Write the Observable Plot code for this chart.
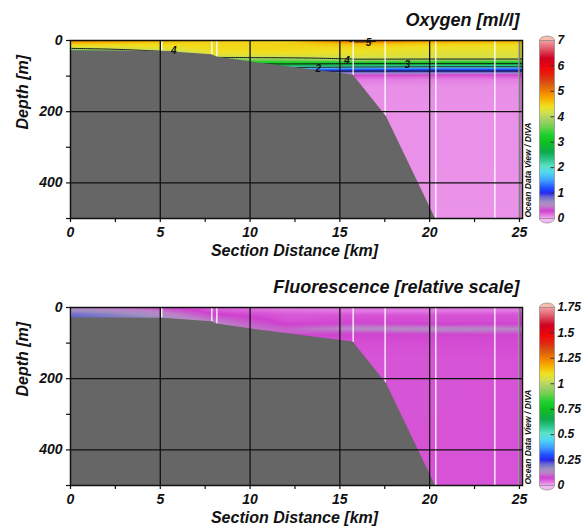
<!DOCTYPE html>
<html>
<head>
<meta charset="utf-8">
<script src="https://cdn.jsdelivr.net/npm/d3@7"></script>
<script src="https://cdn.jsdelivr.net/npm/@observablehq/plot@0.6"></script>
<style>
  html, body { margin: 0; padding: 0; background: #fff; }
  #figure { position: relative; width: 583px; height: 528px; overflow: hidden; }
  #figure svg { position: absolute; }
</style>
</head>
<body>
<div id="figure"></div>
<script>
// ---- Section geometry ----
const distanceTicks = [0, 5, 10, 15, 20, 25];
const depthTicks = [0, 200, 400];
const xMax = 25.17;
const depthMax = 500;

// Stations: distance along the section (km) and deepest sample (m)
const stationKm = [0, 5.08, 7.87, 8.15, 15.74, 17.52, 20.34, 23.63, 24.98];
const stationDepth = [29, 30, 40, 46, 98, 212, 500, 500, 500];

// Seafloor profile
const bottomKm = [0, 5.08, 7.87, 8.15, 10, 15.74, 17.6, 20.32];
const bottomDepth = [29, 30, 40, 46, 60, 97, 214, 500];

// ---- Gridded fields (rows = depth, columns = distance) ----
const gridKm = [0, 4, 8, 12, 16, 20, 25.2];

const oxygenDepths = [0, 5, 10, 20, 30, 40, 45, 50, 55, 60, 65, 70, 75, 80, 85, 90, 95, 100, 110, 130, 500];
const oxygen = [
  [4.95, 4.75, 4.55, 4.40, 5.20, 4.85, 4.70],
  [4.80, 4.60, 4.50, 4.45, 4.98, 4.70, 4.60],
  [4.55, 4.45, 4.45, 4.50, 4.60, 4.50, 4.45],
  [4.20, 4.35, 4.45, 4.45, 4.45, 4.38, 4.35],
  [3.30, 3.90, 4.40, 4.45, 4.38, 4.32, 4.30],
  [3.00, 3.40, 4.30, 4.30, 4.30, 4.25, 4.25],
  [2.90, 3.20, 4.10, 4.15, 4.22, 4.20, 4.20],
  [2.80, 3.00, 3.90, 3.95, 4.12, 4.15, 4.15],
  [2.70, 2.90, 3.60, 3.60, 3.90, 3.85, 3.85],
  [2.60, 2.80, 3.30, 3.32, 3.30, 3.25, 3.25],
  [2.50, 2.60, 3.00, 3.10, 3.02, 3.02, 3.02],
  [2.30, 2.40, 2.60, 2.60, 2.40, 2.30, 2.30],
  [2.00, 2.00, 2.10, 2.10, 2.00, 1.95, 1.95],
  [1.50, 1.50, 1.50, 1.50, 1.30, 1.25, 1.25],
  [1.10, 1.10, 1.10, 1.10, 1.05, 1.05, 1.05],
  [0.80, 0.80, 0.80, 0.80, 0.80, 0.80, 0.80],
  [0.40, 0.40, 0.40, 0.40, 0.38, 0.35, 0.35],
  [0.25, 0.25, 0.25, 0.25, 0.24, 0.22, 0.22],
  [0.13, 0.13, 0.13, 0.13, 0.13, 0.12, 0.12],
  [0.08, 0.08, 0.08, 0.08, 0.08, 0.08, 0.08],
  [0.07, 0.07, 0.07, 0.07, 0.07, 0.07, 0.07]
];

const fluorDepths = [0, 5, 10, 15, 20, 30, 40, 50, 60, 70, 80, 100, 150, 500];
const fluorescence = [
  [0.130, 0.100, 0.050, 0.040, 0.045, 0.050, 0.045],
  [0.150, 0.110, 0.055, 0.035, 0.035, 0.035, 0.030],
  [0.170, 0.130, 0.060, 0.040, 0.035, 0.035, 0.035],
  [0.190, 0.150, 0.070, 0.050, 0.045, 0.045, 0.050],
  [0.210, 0.160, 0.080, 0.055, 0.060, 0.060, 0.060],
  [0.220, 0.180, 0.100, 0.060, 0.065, 0.065, 0.065],
  [0.220, 0.180, 0.120, 0.065, 0.070, 0.065, 0.065],
  [0.200, 0.170, 0.130, 0.080, 0.100, 0.090, 0.090],
  [0.180, 0.150, 0.130, 0.100, 0.135, 0.140, 0.130],
  [0.150, 0.120, 0.110, 0.100, 0.090, 0.100, 0.100],
  [0.100, 0.090, 0.080, 0.070, 0.070, 0.070, 0.070],
  [0.065, 0.065, 0.065, 0.065, 0.065, 0.065, 0.068],
  [0.060, 0.060, 0.060, 0.060, 0.060, 0.060, 0.062],
  [0.062, 0.062, 0.062, 0.062, 0.062, 0.062, 0.062]
];

// Oxygen isolines and their labels
const oxygenLevels = [1, 2, 3, 4, 5];
const oxyLabelKm = [16.6, 5.75, 15.4, 18.75, 13.8];
const oxyLabelDepth = [6, 30, 56, 68, 79];
const oxyLabelValue = [5, 4, 4, 3, 2];

// Colour bar ticks
const oxygenBarTicks = [0, 1, 2, 3, 4, 5, 6, 7];
const fluorBarTicks = [0, 0.25, 0.5, 0.75, 1, 1.25, 1.5, 1.75];

// ODV-style palette, stops given on a 0–7 bar
const paletteStops = [0, 0.15, 0.3, 0.5, 0.65, 0.85, 1.0, 1.2, 1.5, 1.8, 2.05, 2.3, 2.6, 3.0, 3.3, 3.6, 3.9, 4.15, 4.4, 4.7, 5.0, 5.3, 5.6, 5.9, 6.3, 6.7, 7.0];
const paletteColors = ["#f2aef0", "#e074e0", "#d040d0", "#bc84c8", "#a090c0", "#6868d0", "#2828f0", "#2050ff", "#40a0ff", "#50d8f0", "#60e0c8", "#30c890", "#10a850", "#10c020", "#20d030", "#70d050", "#a8d068", "#d0e050", "#f0e020", "#f8b000", "#f08000", "#d85810", "#e02810", "#f00808", "#d00020", "#e06070", "#f4a0a0"];

// ---- helpers ----
function gridSampler(cols, rows, table) {
  const cell = (a, v) => Math.max(0, Math.min(a.length - 2, d3.bisectRight(a, v) - 1));
  const clamp01 = (t) => Math.max(0, Math.min(1, t));
  return (x, y) => {
    const i = cell(cols, x), j = cell(rows, y);
    const tx = clamp01((x - cols[i]) / (cols[i + 1] - cols[i]));
    const ty = clamp01((y - rows[j]) / (rows[j + 1] - rows[j]));
    const upper = table[j][i] * (1 - tx) + table[j][i + 1] * tx;
    const lower = table[j + 1][i] * (1 - tx) + table[j + 1][i + 1] * tx;
    return upper * (1 - ty) + lower * ty;
  };
}
const oxygenAt = gridSampler(gridKm, oxygenDepths, oxygen);
const fluorAt = gridSampler(gridKm, fluorDepths, fluorescence);

const font = '"Liberation Sans", Arial, Helvetica, sans-serif';
const baseStyle = {fontFamily: font, fontWeight: "bold", fontStyle: "italic", color: "#111", background: "transparent", overflow: "visible"};

// rounded end cap of the colour bar
const capSymbol = {
  draw(context, size) {
    const r = Math.sqrt(size / Math.PI), h = r * 0.6;
    context.moveTo(-r, 0);
    context.bezierCurveTo(-r, -h * 0.7, -r * 0.35, -h, 0, -h);
    context.bezierCurveTo(r * 0.35, -h, r, -h * 0.7, r, 0);
    context.closePath();
  }
};

function sectionPlot({title, field, colorDomain, levels, labels, height, marginBottom}) {
  const seafloor = bottomKm.map((km, i) => ({km, depth: bottomDepth[i]}));
  const stations = stationKm.map((km, i) => ({km, depth: stationDepth[i]}));
  const extent = {x1: 0, x2: xMax, y1: 0, y2: depthMax};
  return Plot.plot({
    width: 583, height,
    marginLeft: 70, marginRight: 61, marginTop: 40, marginBottom,
    x: {domain: [0, xMax]},
    y: {domain: [0, depthMax], reverse: true},
    color: {type: "linear", domain: colorDomain, range: paletteColors},
    style: {...baseStyle, fontSize: "14px"},
    marks: [
      Plot.raster({fill: field, ...extent, pixelSize: 1}),
      ...(levels ? [Plot.contour({value: field, ...extent, thresholds: levels, fill: "none", stroke: "#151515", strokeWidth: 1})] : []),
      Plot.ruleX(stations, {x: "km", y1: 0, y2: "depth", stroke: "white", strokeOpacity: 0.85, strokeWidth: 1.5}),
      Plot.areaY(seafloor, {x: "km", y1: "depth", y2: depthMax, fill: "#666666"}),
      ...(labels ? [Plot.text(labels, {x: "km", y: "depth", text: "value", fontSize: 10, fill: "#111"})] : []),
      Plot.ruleX(distanceTicks.slice(1, -1), {stroke: "#111", strokeWidth: 1.3}),
      Plot.ruleX(distanceTicks.slice(-1), {stroke: "#111", strokeWidth: 2, strokeOpacity: 0.5}),
      Plot.ruleY(depthTicks.slice(1), {stroke: "#111", strokeWidth: 1.3}),
      Plot.frame({stroke: "#111", strokeWidth: 1.5}),
      Plot.axisX(d3.range(0, 25.01, 2.5), {tickSize: 4, tickFormat: () => "", label: null, strokeWidth: 1.2}),
      Plot.axisX(distanceTicks, {tickSize: 0, tickPadding: 9, label: null, fontSize: 14}),
      Plot.axisY(d3.range(0, depthMax + 1, 100), {tickSize: 4, tickFormat: () => "", label: null, strokeWidth: 1.2}),
      Plot.axisY(depthTicks, {tickSize: 0, tickPadding: 8, label: null, fontSize: 14}),
      Plot.text([title], {frameAnchor: "top-right", dx: -3, dy: -15, textAnchor: "end", lineAnchor: "bottom", fontSize: 18}),
      Plot.text(["Section Distance [km]"], {frameAnchor: "bottom", dx: -2, dy: 37, lineAnchor: "bottom", fontSize: 16}),
      Plot.text(["Depth [m]"], {frameAnchor: "left", dx: -43, rotate: -90, lineAnchor: "bottom", fontSize: 16}),
      Plot.text(["Ocean Data View / DIVA"], {frameAnchor: "bottom-right", dx: 8, dy: -1, rotate: -90, textAnchor: "start", fontSize: 8.5})
    ]
  });
}

function colorBar({colorDomain, ticks, height, marginBottom}) {
  const lo = colorDomain[0], hi = colorDomain[colorDomain.length - 1];
  return Plot.plot({
    width: 59, height,
    marginLeft: 15, marginRight: 29, marginTop: 40, marginBottom,
    x: {domain: [0, 1], axis: null},
    y: {domain: [lo, hi], axis: null},
    color: {type: "linear", domain: colorDomain, range: paletteColors},
    style: {...baseStyle, fontSize: "12px"},
    marks: [
      Plot.raster({fill: (x, y) => y, x1: 0, x2: 1, y1: lo, y2: hi, pixelSize: 1}),
      Plot.ruleY(ticks.slice(1, -1), {x1: 0.77, x2: 1, stroke: "#333", strokeWidth: 1}),
      Plot.frame({stroke: "#8a8a8a", strokeWidth: 0.7}),
      Plot.dot([hi], {frameAnchor: "top", symbol: capSymbol, r: 7.5, fill: "#f7bcae", stroke: "#8a8a8a", strokeWidth: 0.7}),
      Plot.dot([lo], {frameAnchor: "bottom", symbol: capSymbol, r: 7.5, rotate: 180, fill: "#f4b8f2", stroke: "#8a8a8a", strokeWidth: 0.7}),
      Plot.axisY(ticks, {anchor: "right", tickSize: 0, tickPadding: 3, tickFormat: (d) => String(d), label: null, fontSize: 12})
    ]
  });
}

// ---- layout ----
const figure = document.getElementById("figure");
function place(node, left, top) {
  node.style.left = left + "px";
  node.style.top = top + "px";
  figure.appendChild(node);
}

const oxyLabels = oxyLabelKm.map((km, i) => ({km, depth: oxyLabelDepth[i], value: oxyLabelValue[i]}));
const oxygenDomain = paletteStops;
const fluorDomain = paletteStops.map((s) => s * fluorBarTicks[fluorBarTicks.length - 1] / oxygenBarTicks[oxygenBarTicks.length - 1]);

place(sectionPlot({title: "Oxygen [ml/l]", field: oxygenAt, colorDomain: oxygenDomain, levels: oxygenLevels, labels: oxyLabels, height: 267, marginBottom: 49}), 0, 0);
place(colorBar({colorDomain: oxygenDomain, ticks: oxygenBarTicks, height: 267, marginBottom: 49}), 524, 0);

place(sectionPlot({title: "Fluorescence [relative scale]", field: fluorAt, colorDomain: fluorDomain, height: 261, marginBottom: 43}), 0, 267);
place(colorBar({colorDomain: fluorDomain, ticks: fluorBarTicks, height: 261, marginBottom: 43}), 524, 267);
</script>
</body>
</html>
